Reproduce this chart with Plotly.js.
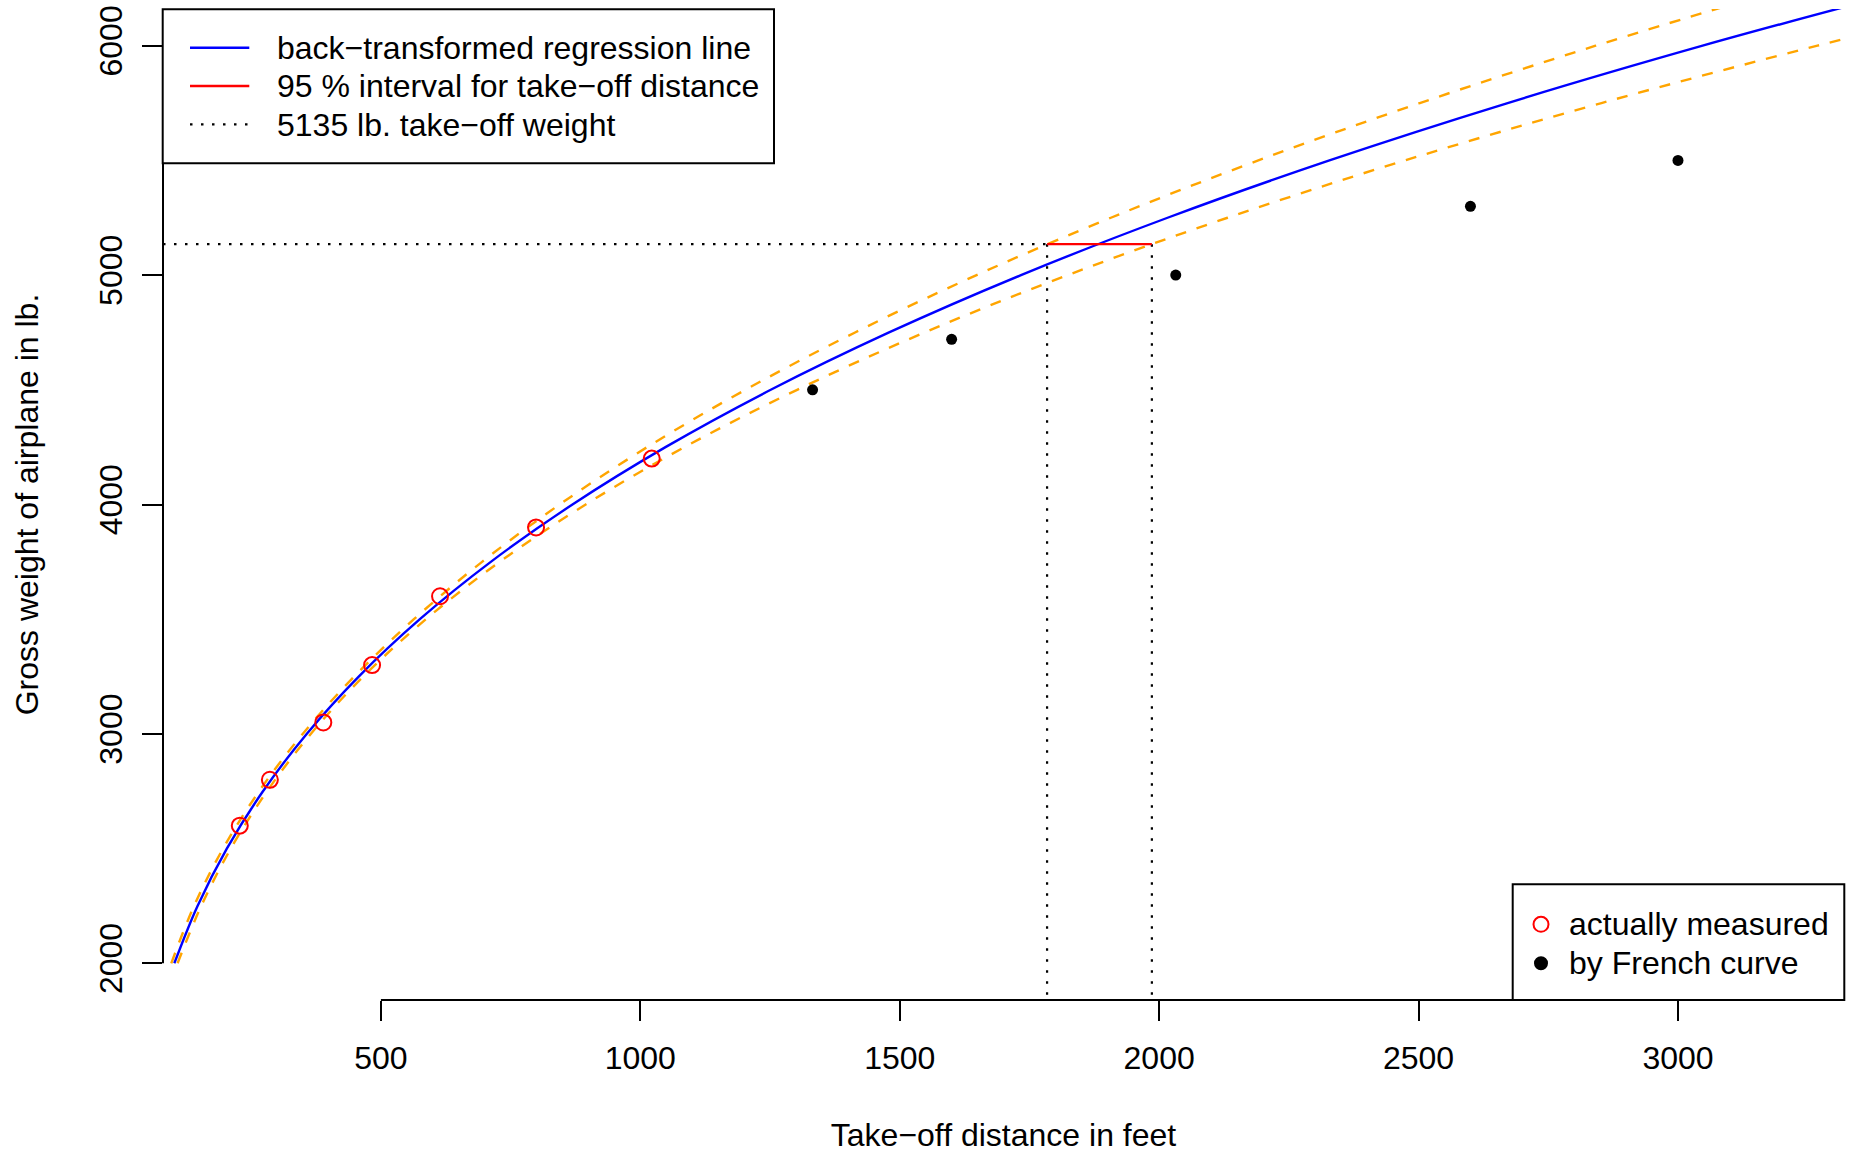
<!DOCTYPE html>
<html>
<head>
<meta charset="utf-8">
<script src="https://cdn.plot.ly/plotly-3.0.1.min.js"></script>
<style>
html,body{margin:0;padding:0;background:#ffffff;}
#chart{width:1850px;height:1153px;}
</style>
</head>
<body>
<div id="chart"></div>
<script>
// ---------------- data ----------------
const weightGrid        = [2000, 2250, 2500, 2750, 3000, 3250, 3500, 3750, 4000, 4250, 4500, 4750, 5000, 5250, 5500, 5750, 6000, 6200];
const fittedDistance    = [101.8, 146.6, 203.0, 272.7, 356.9, 457.2, 575.1, 711.8, 869.2, 1048.5, 1251.4, 1479.4, 1733.7, 2016.2, 2328.2, 2671.7, 3047.5, 3373.0];
const bandLowDistance   = [95.9, 139.8, 195.7, 265.2, 349.2, 448.5, 563.6, 695.0, 844.5, 1013.1, 1202.5, 1413.9, 1648.1, 1906.9, 2191.1, 2502.4, 2841.3, 3133.5];
const bandHighDistance  = [108.1, 153.7, 210.6, 280.5, 364.8, 466.0, 586.8, 729.0, 894.7, 1085.1, 1302.3, 1547.9, 1823.7, 2131.8, 2473.9, 2852.5, 3268.8, 3630.8];

const measuredDistance  = [228, 286, 389, 483, 614, 799, 1022];
const measuredWeight    = [2600, 2800, 3050, 3300, 3600, 3900, 4200];

const frenchDistance    = [1332, 1600, 2032, 2600, 3000];
const frenchWeight      = [4500, 4720, 5000, 5300, 5500];

const takeoffWeight     = 5135;
const intervalDistance  = [1784, 1986];

const xTickValues = [500, 1000, 1500, 2000, 2500, 3000];
const yTickValues = [2000, 3000, 4000, 5000, 6000];
const xRange = [80, 3320];
const yRange = [1840, 6160];

const legendLineLabels   = ["back\u2212transformed regression line", "95 % interval for take\u2212off distance", "5135 lb. take\u2212off weight"];
const legendMarkerLabels = ["actually measured", "by French curve"];
const xTitle = "Take\u2212off distance in feet";
const yTitle = "Gross weight of airplane in lb.";

// ---------------- styling / layout ----------------
const FONT = "'Liberation Sans', Arial, Helvetica, sans-serif";
const W = 1850, H = 1153;
const M = {l: 163, r: 6, t: 9, b: 153};
const PW = W - M.l - M.r, PH = H - M.t - M.b;
const px = v => (v - M.l) / PW;           // pixel x -> paper x
const py = v => (H - M.b - v) / PH;       // pixel y -> paper y

const BLUE = "#0000FF", RED = "#FF0000", ORANGE = "#FFA500", BLACK = "#000000";
const DOTTED = "2.5px,8.5px";
const DASHED = "11px,11px";

const traces = [
  {x: bandLowDistance, y: weightGrid, type: "scatter", mode: "lines", name: "95 % prediction band (upper)",
   line: {color: ORANGE, width: 2.4, dash: DASHED, shape: "spline"}, showlegend: false, hoverinfo: "skip"},
  {x: bandHighDistance, y: weightGrid, type: "scatter", mode: "lines", name: "95 % prediction band (lower)",
   line: {color: ORANGE, width: 2.4, dash: DASHED, shape: "spline"}, showlegend: false, hoverinfo: "skip"},
  {x: fittedDistance, y: weightGrid, type: "scatter", mode: "lines", name: legendLineLabels[0],
   line: {color: BLUE, width: 2.4, shape: "spline"}, showlegend: false},
  {x: [xRange[0], intervalDistance[0]], y: [takeoffWeight, takeoffWeight], type: "scatter", mode: "lines",
   name: legendLineLabels[2], line: {color: BLACK, width: 2.2, dash: DOTTED}, showlegend: false},
  {x: [intervalDistance[0], intervalDistance[0]], y: [takeoffWeight, yRange[0]], type: "scatter", mode: "lines",
   name: "lower limit", line: {color: BLACK, width: 2.2, dash: DOTTED}, showlegend: false},
  {x: [intervalDistance[1], intervalDistance[1]], y: [takeoffWeight, yRange[0]], type: "scatter", mode: "lines",
   name: "upper limit", line: {color: BLACK, width: 2.2, dash: DOTTED}, showlegend: false},
  {x: intervalDistance, y: [takeoffWeight, takeoffWeight], type: "scatter", mode: "lines",
   name: legendLineLabels[1], line: {color: RED, width: 2.4}, showlegend: false},
  {x: measuredDistance, y: measuredWeight, type: "scatter", mode: "markers", name: legendMarkerLabels[0],
   marker: {symbol: "circle-open", size: 16, color: RED, line: {width: 2, color: RED}}, showlegend: false},
  {x: frenchDistance, y: frenchWeight, type: "scatter", mode: "markers", name: legendMarkerLabels[1],
   marker: {symbol: "circle", size: 11, color: BLACK}, showlegend: false}
];

const shapes = [
  // axis lines (R style: from first tick outward)
  {type: "line", xref: "x", yref: "paper", x0: xTickValues[0], x1: xRange[1], y0: 0, y1: 0,
   line: {color: BLACK, width: 2}},
  {type: "line", xref: "paper", yref: "y", x0: 0, x1: 0, y0: yTickValues[0], y1: yRange[1],
   line: {color: BLACK, width: 2}},
  // legend 1 box
  {type: "rect", xref: "paper", yref: "paper", x0: px(162.7), x1: px(774), y0: py(163.3), y1: py(9.3),
   line: {color: BLACK, width: 2}, fillcolor: "rgba(255,255,255,1)"},
  {type: "line", xref: "paper", yref: "paper", x0: px(190), x1: px(249.3), y0: py(47.7), y1: py(47.7),
   line: {color: BLUE, width: 2.4}},
  {type: "line", xref: "paper", yref: "paper", x0: px(190), x1: px(249.3), y0: py(86), y1: py(86),
   line: {color: RED, width: 2.4}},
  {type: "line", xref: "paper", yref: "paper", x0: px(190), x1: px(249.3), y0: py(124.3), y1: py(124.3),
   line: {color: BLACK, width: 2.2, dash: DOTTED}},
  // legend 2 box
  {type: "rect", xref: "paper", yref: "paper", x0: px(1512.7), x1: px(1844.3), y0: py(1000), y1: py(884.3),
   line: {color: BLACK, width: 2}, fillcolor: "rgba(255,255,255,1)"},
  {type: "circle", xref: "paper", yref: "paper", xsizemode: "pixel", ysizemode: "pixel",
   xanchor: px(1541), yanchor: py(924.3), x0: -7.5, x1: 7.5, y0: -7.5, y1: 7.5,
   line: {color: RED, width: 2}},
  {type: "circle", xref: "paper", yref: "paper", xsizemode: "pixel", ysizemode: "pixel",
   xanchor: px(1541), yanchor: py(963.3), x0: -7, x1: 7, y0: -7, y1: 7,
   line: {color: BLACK, width: 0}, fillcolor: BLACK}
];

const textFont = {family: FONT, size: 32, color: BLACK};
const annotations = [
  {text: legendLineLabels[0], x: px(274.5), y: py(47.7)},
  {text: legendLineLabels[1], x: px(274.5), y: py(86.5)},
  {text: legendLineLabels[2], x: px(274.5), y: py(125)},
  {text: legendMarkerLabels[0], x: px(1567), y: py(924.3)},
  {text: legendMarkerLabels[1], x: px(1567), y: py(963.3)}
].map(a => Object.assign({xref: "paper", yref: "paper", xanchor: "left", yanchor: "middle",
                          showarrow: false, font: textFont}, a));

const layout = {
  width: W, height: H,
  margin: M,
  paper_bgcolor: "#ffffff", plot_bgcolor: "#ffffff",
  showlegend: false,
  font: textFont,
  xaxis: {
    range: xRange, tickvals: xTickValues, ticktext: xTickValues.map(String),
    ticks: "outside", ticklen: 20, tickwidth: 2, tickcolor: BLACK,
    showline: false, showgrid: false, zeroline: false,
    tickfont: textFont, ticklabelstandoff: 10,
    title: {text: xTitle, font: textFont, standoff: 49}
  },
  yaxis: {
    range: yRange, tickvals: yTickValues, ticktext: yTickValues.map(String),
    ticks: "outside", ticklen: 20, tickwidth: 2, tickcolor: BLACK,
    showline: false, showgrid: false, zeroline: false,
    tickangle: -90, tickfont: textFont, ticklabelstandoff: 7,
    title: {text: yTitle, font: textFont, standoff: 45}
  },
  shapes: shapes,
  annotations: annotations
};

Plotly.newPlot("chart", traces, layout, {displayModeBar: false, staticPlot: true});
</script>
</body>
</html>
